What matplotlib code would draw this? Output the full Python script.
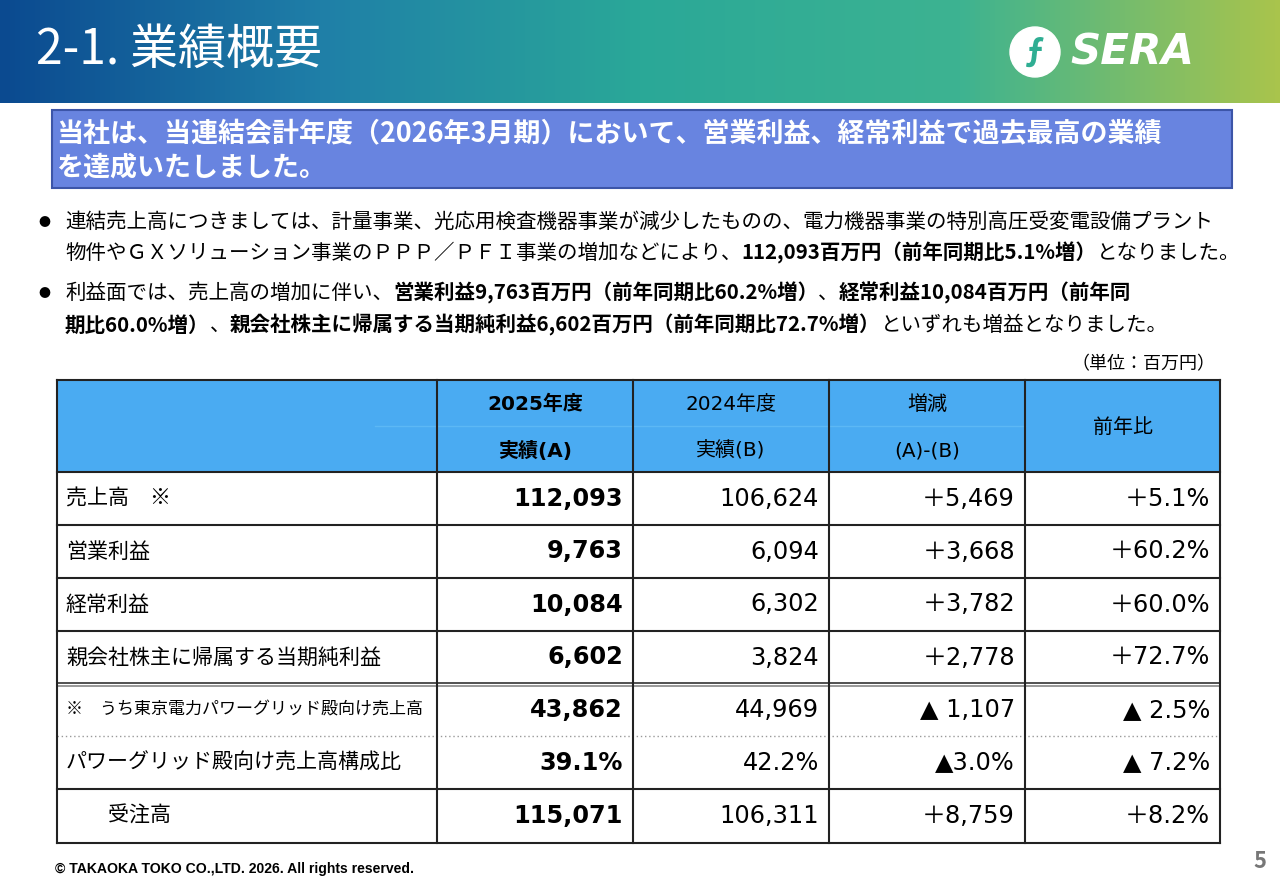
import matplotlib
matplotlib.use("Agg")
import matplotlib.pyplot as plt
import numpy as np
from matplotlib.colors import LinearSegmentedColormap
from matplotlib.patches import Rectangle, Circle

plt.rcParams['font.family'] = ['Noto Sans CJK JP', 'DejaVu Sans']
NUMF = ['DejaVu Sans', 'Noto Sans CJK JP']

title = "2-1. 業績概要"
banner = ["当社は、当連結会計年度（2026年3月期）において、営業利益、経常利益で過去最高の業績", "を達成いたしました。"]
bullets = [
    [[("連結売上高につきましては、計量事業、光応用検査機器事業が減少したものの、電力機器事業の特別高圧受変電設備プラント", False)],
     [("物件やＧＸソリューション事業のＰＰＰ／ＰＦＩ事業の増加などにより、", False), ("112,093百万円（前年同期比5.1%増）", True), ("となりました。", False)]],
    [[("利益面では、売上高の増加に伴い、", False), ("営業利益9,763百万円（前年同期比60.2%増）", True), ("、", False), ("経常利益10,084百万円（前年同", True)],
     [("期比60.0%増）", True), ("、", False), ("親会社株主に帰属する当期純利益6,602百万円（前年同期比72.7%増）", True), ("といずれも増益となりました。", False)]],
]
unit = "（単位：百万円）"
head_top = ["2025年度", "2024年度", "増減", ""]
head_bot = ["実績(A)", "実績(B)", "(A)-(B)", ""]
row_labels = ["売上高　※", "営業利益", "経常利益", "親会社株主に帰属する当期純利益",
              "※　うち東京電力パワーグリッド殿向け売上高", "パワーグリッド殿向け売上高構成比", "　　受注高"]
col_a = ["112,093", "9,763", "10,084", "6,602", "43,862", "39.1%", "115,071"]
col_b = ["106,624", "6,094", "6,302", "3,824", "44,969", "42.2%", "106,311"]
col_diff = ["＋5,469", "＋3,668", "＋3,782", "＋2,778", "▲ 1,107", "▲3.0%", "＋8,759"]
col_ratio = ["＋5.1%", "＋60.2%", "＋60.0%", "＋72.7%", "▲ 2.5%", "▲ 7.2%", "＋8.2%"]
footer = "© TAKAOKA TOKO CO.,LTD. 2026. All rights reserved."

W, H = 1280, 886
fig = plt.figure(figsize=(12.8, 8.86), dpi=100)
ax = fig.add_axes([0, 0, 1, 1])
ax.set_xlim(0, W); ax.set_ylim(H, 0); ax.axis('off')
PT = 0.72

cmap = LinearSegmentedColormap.from_list('g', ['#0b4a90', '#1f7fa8', '#2aa898', '#3db391', '#a9c44c'])
grad = np.linspace(0, 1, 256)[None, :]
ax.imshow(grad, extent=[0, W, 103, 0], cmap=cmap, aspect='auto', zorder=0)
ax.text(36, 50, title, color='white', fontsize=48*PT, va='center', ha='left')
ax.add_patch(Circle((1035, 52), 25, color='white', zorder=2))
ax.text(1035, 52, "ƒ", color='#2fae93', fontsize=34*PT, ha='center', va='center', fontweight='bold', zorder=3)
ax.text(1070, 52, "SERA", color='white', fontsize=42*PT, ha='left', va='center', fontweight='bold', style='italic', family='DejaVu Sans')
ax.set_xlim(0, W); ax.set_ylim(H, 0)

ax.add_patch(Rectangle((52, 110), 1180, 78, facecolor='#6884e0', edgecolor='#3c55a8', lw=1.5))
ax.text(56, 134, banner[0], color='white', fontsize=27*PT, fontweight='bold', va='center')
ax.text(56, 167, banner[1], color='white', fontsize=27*PT, fontweight='bold', va='center')

fig.canvas.draw()
renderer = fig.canvas.get_renderer()

def runs(x, y, segs, size):
    for s, b in segs:
        t = ax.text(x, y, s, fontsize=size, fontweight='bold' if b else 'normal', va='center', ha='left', color='black')
        x += t.get_window_extent(renderer).width

ys = [[222, 253], [293, 325]]
for bi, lines in enumerate(bullets):
    ax.text(38, ys[bi][0], "●", fontsize=12*PT, va='center')
    for li, segs in enumerate(lines):
        runs(65, ys[bi][li], segs, 20.5*PT)

ax.text(1215, 364, unit, fontsize=18*PT, ha='right', va='center')

xs = [57, 437, 633, 829, 1025, 1220]
ytop, ymid, yh = 380, 426, 472
rows = [472, 525, 578, 631, 684, 736, 789, 843]
ax.add_patch(Rectangle((xs[0], ytop), xs[-1]-xs[0], yh-ytop, facecolor='#4aabf2', edgecolor='none'))
ax.plot([57, 1220], [ytop, ytop], color='#222', lw=1.5)
ax.plot([375, 1025], [ymid, ymid], color='#5cb8f5', lw=1)
for j in range(4):
    cx = (xs[j+1] + xs[j+2]) / 2
    bold = (j == 0)
    if j < 3:
        ax.text(cx, 404, head_top[j], fontsize=20*PT, ha='center', va='center', family=NUMF, fontweight='bold' if bold else 'normal')
        ax.text(cx, 451, head_bot[j], fontsize=20*PT, ha='center', va='center', family=NUMF, fontweight='bold' if bold else 'normal')
    else:
        ax.text(cx, 427, "前年比", fontsize=20*PT, ha='center', va='center')

for i, lab in enumerate(row_labels):
    cy = (rows[i] + rows[i+1]) / 2
    small = 17 if i == 4 else 21
    ax.text(66, cy, lab, fontsize=small*PT, ha='left', va='center')
    ax.text(xs[2]-10, cy, col_a[i], fontsize=24*PT, ha='right', va='center', fontweight='bold', family=NUMF)
    ax.text(xs[3]-10, cy, col_b[i], fontsize=24*PT, ha='right', va='center', family=NUMF)
    ax.text(xs[4]-10, cy, col_diff[i], fontsize=24*PT, ha='right', va='center', family=NUMF)
    ax.text(xs[5]-10, cy, col_ratio[i], fontsize=24*PT, ha='right', va='center', family=NUMF)

for k, y in enumerate(rows):
    if k == 5:
        ax.plot([57, 1220], [y, y], color='#999', lw=1, ls=(0, (1, 2)))
    elif k == 4:
        ax.plot([57, 1220], [y-1.5, y-1.5], color='#333', lw=1.2)
        ax.plot([57, 1220], [y+1.5, y+1.5], color='#888', lw=1.2)
    else:
        ax.plot([57, 1220], [y, y], color='#222', lw=1.5)
for x in xs:
    ax.plot([x, x], [ytop, rows[-1]], color='#222', lw=1.5)

ax.text(55, 869, footer, fontsize=14*PT, fontweight='bold', ha='left', va='center', family='Liberation Sans')
ax.text(1260, 862, "5", fontsize=22*PT, fontweight='bold', color='#777', ha='center', va='center')

fig.savefig('out.png', dpi=100)
